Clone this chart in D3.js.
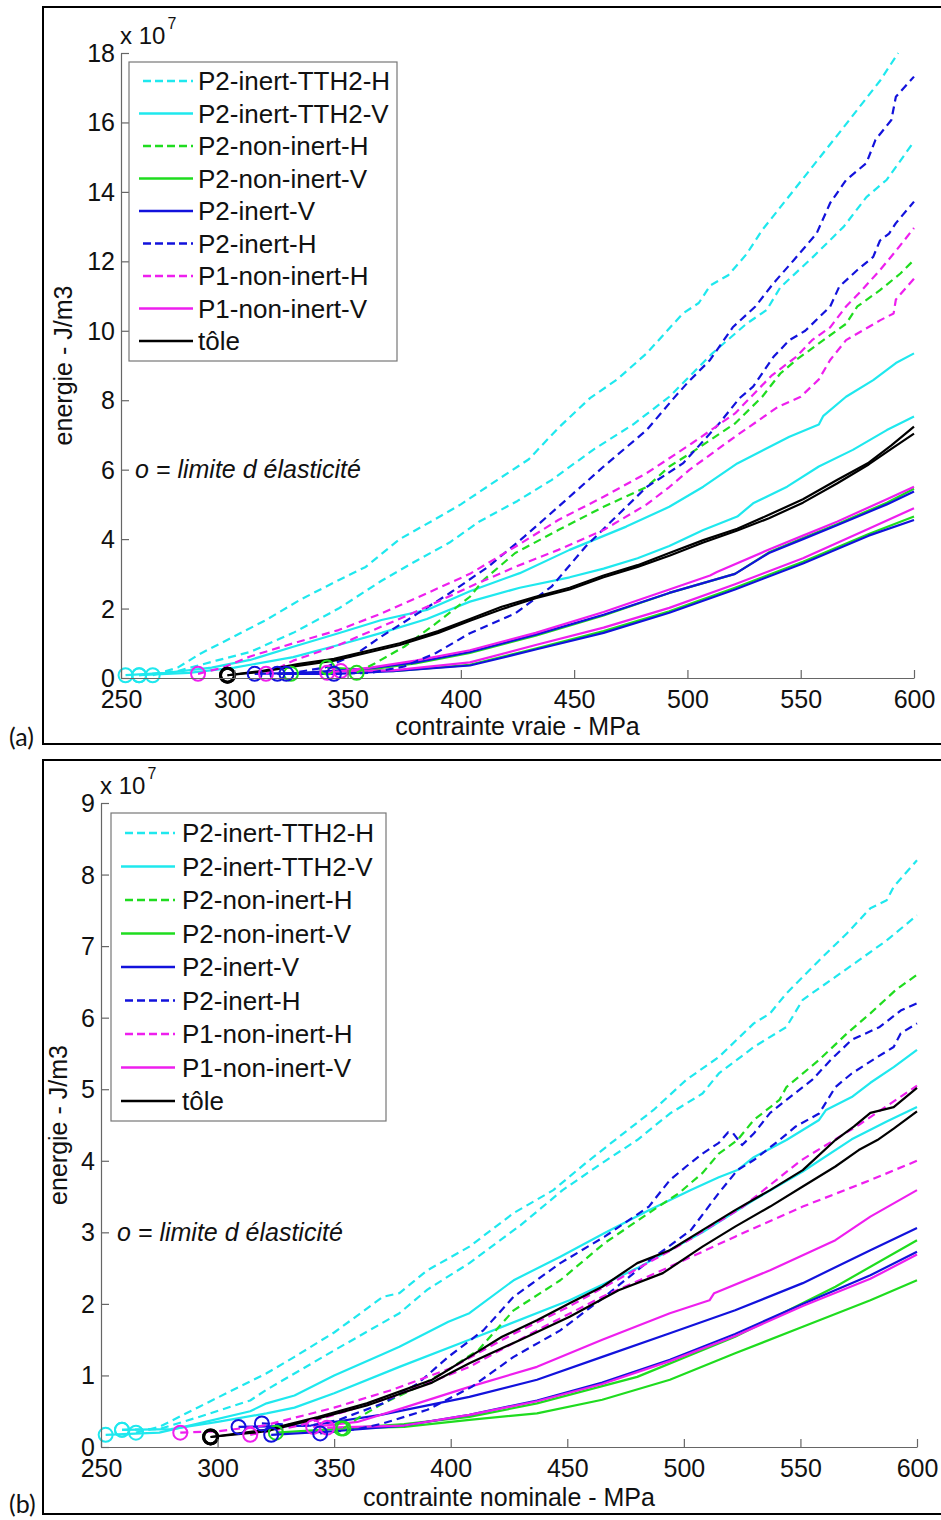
<!DOCTYPE html>
<html><head><meta charset="utf-8">
<script src="https://cdn.jsdelivr.net/npm/d3@7"></script>
<style>
body{margin:0;background:#fff}
svg{display:block}
text{font-family:"Liberation Sans",Arial,Helvetica,sans-serif;fill:#111}
</style>
</head><body>
<svg id="chart" width="941" height="1520"></svg>
<script>
// ---------------- DATA ----------------
const legendLabels = ["P2-inert-TTH2-H","P2-inert-TTH2-V","P2-non-inert-H","P2-non-inert-V","P2-inert-V","P2-inert-H","P1-non-inert-H","P1-non-inert-V","tôle"];
const xTicks = [250,300,350,400,450,500,550,600];
const yTicksA = [0,2,4,6,8,10,12,14,16,18];
const yTicksB = [0,1,2,3,4,5,6,7,8,9];
const xTitleA = "contrainte vraie - MPa";
const xTitleB = "contrainte nominale - MPa";
const yTitle = "energie - J/m3";
const noteText = "o = limite d élasticité";

// Panel (a): [contrainte MPa, energie x1e7 J/m3]; first point = limite d'élasticité
const aCyanDashA = [[264,0.08],[275,0.3],[285,0.7],[300,1.2],[314,1.67],[329,2.25],[344,2.75],[358,3.2],[373,4.0],[388,4.55],[400,5.0],[416,5.7],[430,6.3],[443,7.2],[457,8.06],[469,8.6],[482,9.35],[498,10.5],[505,10.8],[510,11.3],[518,11.6],[526,12.2],[533,12.9],[550,14.3],[567,15.7],[576,16.45],[585,17.2],[593,18.0]];
const aCyanDashB = [[258,0.08],[275,0.2],[292,0.5],[307,0.75],[326,1.3],[346,2.0],[365,2.8],[381,3.4],[395,3.9],[408,4.5],[425,5.1],[440,5.7],[459,6.6],[476,7.3],[492,8.1],[511,9.35],[526,10.2],[535,10.6],[541,11.25],[555,12.1],[569,13.0],[579,13.85],[588,14.35],[600,15.45]];
const aCyanSolA = [[252,0.08],[270,0.15],[290,0.3],[307,0.52],[326,0.9],[346,1.29],[365,1.67],[385,1.96],[404,2.5],[426,3.02],[448,3.69],[473,4.36],[492,4.93],[507,5.51],[522,6.18],[545,6.95],[558,7.3],[560,7.55],[570,8.1],[582,8.58],[592,9.07],[600,9.35]];
const aCyanSolB = [[258,0.08],[280,0.15],[300,0.3],[326,0.6],[346,0.95],[365,1.3],[385,1.7],[404,2.2],[426,2.6],[448,2.9],[463,3.15],[478,3.45],[492,3.8],[507,4.26],[522,4.65],[529,5.03],[544,5.51],[558,6.09],[573,6.57],[588,7.14],[600,7.53]];
const aGreenDash = [[354,0.15],[362,0.42],[375,0.9],[389,1.57],[404,2.34],[410,2.82],[424,3.6],[443,4.26],[463,4.93],[482,5.5],[492,6.09],[502,6.5],[521,7.33],[533,8.1],[541,8.77],[548,9.16],[560,9.73],[570,10.2],[575,10.7],[585,11.17],[594,11.65],[600,12.04]];
const aGreenSolA = [[325,0.12],[360,0.25],[380,0.42],[404,0.72],[433,1.22],[463,1.8],[492,2.45],[521,3.0],[536,3.62],[551,4.03],[566,4.43],[588,5.05],[600,5.45]];
const aGreenSolB = [[341,0.3],[370,0.2],[404,0.38],[433,0.85],[463,1.35],[492,1.92],[521,2.6],[551,3.35],[580,4.15],[600,4.65]];
const aBlueSolA = [[309,0.12],[330,0.15],[360,0.28],[380,0.45],[404,0.75],[433,1.25],[463,1.82],[492,2.45],[521,3.0],[536,3.6],[551,4.0],[566,4.4],[588,5.0],[600,5.37]];
const aBlueSolB = [[319,0.12],[345,0.12],[370,0.2],[404,0.36],[433,0.82],[463,1.3],[492,1.88],[521,2.55],[551,3.3],[580,4.1],[600,4.55]];
const aBlueDashA = [[323,0.12],[340,0.3],[354,0.7],[365,1.2],[381,1.86],[395,2.44],[412,3.2],[428,4.07],[443,4.93],[463,6.09],[482,7.14],[494,8.06],[500,8.5],[510,9.16],[520,10.1],[530,10.7],[538,11.37],[547,12.04],[557,12.8],[563,13.68],[570,14.34],[579,14.83],[583,15.5],[590,16.07],[592,16.74],[600,17.32]];
const aBlueDashB = [[344,0.12],[360,0.15],[375,0.33],[389,0.72],[404,1.29],[424,1.86],[440,2.63],[455,3.78],[467,4.55],[482,5.5],[498,6.18],[514,7.33],[523,8.06],[529,8.39],[538,9.25],[545,9.73],[552,10.0],[563,10.7],[567,11.27],[575,11.75],[582,12.13],[585,12.6],[589,12.8],[592,13.1],[600,13.72]];
const aMagDashA = [[284,0.12],[295,0.3],[307,0.62],[326,1.0],[346,1.38],[365,1.86],[385,2.44],[404,3.0],[424,3.78],[443,4.55],[463,5.22],[482,5.9],[502,6.76],[521,7.62],[537,8.7],[548,9.25],[555,9.73],[563,10.1],[570,10.7],[577,11.17],[585,11.75],[592,12.3],[600,12.96]];
const aMagDashB = [[314,0.12],[326,0.5],[346,0.95],[365,1.48],[385,2.05],[404,2.63],[424,3.2],[443,3.69],[463,4.26],[482,5.0],[492,5.5],[501,6.0],[521,6.95],[540,7.81],[550,8.1],[558,8.6],[563,9.16],[570,9.73],[585,10.3],[591,10.5],[592,10.9],[600,11.5]];
const aMagSolA = [[341,0.15],[360,0.3],[380,0.5],[404,0.8],[433,1.3],[463,1.9],[492,2.55],[510,2.95],[513,3.05],[536,3.7],[551,4.1],[566,4.5],[588,5.15],[600,5.51]];
const aMagSolB = [[347,0.2],[370,0.22],[404,0.45],[433,0.95],[463,1.45],[492,2.02],[521,2.7],[551,3.45],[580,4.3],[600,4.89]];
const aBlackA = [[297,0.08],[312,0.2],[328,0.4],[344,0.55],[360,0.8],[373,1.0],[390,1.35],[404,1.7],[418,2.05],[433,2.34],[448,2.6],[463,2.95],[478,3.25],[492,3.6],[507,3.97],[522,4.3],[536,4.7],[551,5.15],[566,5.7],[580,6.2],[590,6.7],[600,7.24]];
const aBlackB = [[297,0.08],[312,0.18],[328,0.35],[344,0.5],[360,0.75],[373,0.95],[390,1.3],[404,1.65],[418,1.98],[433,2.3],[448,2.55],[463,2.9],[478,3.2],[492,3.52],[507,3.9],[522,4.25],[536,4.6],[551,5.05],[566,5.6],[580,6.15],[590,6.6],[600,7.04]];

// Panel (b)
const bCyanDashA = [[265,0.2],[275,0.28],[292,0.56],[321,1.03],[333,1.26],[350,1.6],[371,2.1],[378,2.15],[390,2.47],[408,2.8],[427,3.27],[444,3.59],[458,3.97],[472,4.33],[487,4.71],[501,5.13],[515,5.45],[530,5.92],[537,6.06],[544,6.34],[558,6.8],[570,7.18],[580,7.53],[587,7.64],[590,7.83],[600,8.2]];
const bCyanDashB = [[259,0.24],[275,0.25],[292,0.42],[314,0.65],[321,0.8],[350,1.35],[378,1.87],[390,2.2],[408,2.57],[430,3.1],[448,3.59],[465,3.97],[480,4.29],[494,4.66],[508,4.94],[515,5.22],[530,5.59],[544,5.87],[551,6.25],[565,6.57],[575,6.8],[587,7.08],[600,7.43]];
const bCyanSolA = [[252,0.17],[275,0.2],[292,0.33],[314,0.5],[321,0.61],[333,0.72],[350,1.0],[371,1.3],[378,1.4],[399,1.75],[408,1.87],[427,2.33],[447,2.66],[466,2.99],[485,3.31],[503,3.59],[515,3.77],[523,3.87],[530,4.05],[544,4.29],[558,4.57],[561,4.71],[572,4.89],[580,5.09],[590,5.31],[600,5.55]];
const bCyanSolB = [[259,0.24],[280,0.25],[300,0.35],[321,0.47],[333,0.55],[350,0.75],[378,1.12],[408,1.5],[451,2.05],[480,2.5],[508,3.0],[530,3.45],[551,3.85],[572,4.3],[587,4.55],[600,4.75]];
const bGreenDash = [[354,0.26],[361,0.42],[371,0.61],[386,0.84],[399,1.08],[412,1.36],[427,1.91],[447,2.33],[466,2.85],[485,3.27],[498,3.55],[508,3.83],[515,4.1],[523,4.29],[530,4.57],[541,4.85],[544,5.03],[558,5.41],[570,5.78],[580,6.06],[591,6.39],[600,6.6]];
const bGreenSolA = [[325,0.2],[350,0.25],[380,0.32],[408,0.42],[437,0.61],[465,0.85],[480,0.98],[522,1.54],[565,2.24],[600,2.89]];
const bGreenSolB = [[353,0.26],[380,0.28],[408,0.38],[437,0.47],[465,0.66],[494,0.94],[522,1.31],[551,1.68],[580,2.05],[600,2.33]];
const bBlueSolA = [[309,0.28],[340,0.3],[370,0.45],[408,0.7],[437,0.94],[465,1.26],[494,1.59],[522,1.91],[551,2.29],[580,2.75],[600,3.06]];
const bBlueSolB = [[323,0.17],[350,0.22],[380,0.3],[408,0.45],[437,0.65],[465,0.9],[494,1.22],[522,1.58],[551,2.0],[580,2.4],[600,2.73]];
const bBlueDashA = [[319,0.33],[340,0.3],[352,0.38],[371,0.61],[386,0.89],[399,1.26],[414,1.63],[427,2.1],[447,2.57],[466,2.94],[485,3.36],[494,3.73],[501,3.92],[508,4.1],[515,4.25],[519,4.4],[521,4.39],[525,4.22],[530,4.38],[537,4.67],[544,4.85],[555,5.13],[563,5.41],[572,5.69],[584,5.87],[593,6.1],[600,6.2]];
const bBlueDashB = [[344,0.19],[360,0.25],[371,0.33],[390,0.52],[409,0.84],[427,1.26],[447,1.63],[466,2.1],[485,2.6],[503,3.03],[515,3.55],[523,3.87],[530,4.01],[541,4.29],[548,4.48],[558,4.66],[565,5.03],[572,5.22],[583,5.45],[590,5.59],[593,5.78],[600,5.92]];
const bMagDashA = [[284,0.2],[300,0.22],[320,0.3],[350,0.55],[375,0.8],[400,1.1],[425,1.55],[450,1.95],[475,2.4],[500,2.85],[525,3.35],[550,4.0],[575,4.5],[600,5.05]];
const bMagDashB = [[314,0.17],[335,0.3],[350,0.45],[375,0.7],[408,1.12],[437,1.63],[465,2.1],[494,2.52],[522,2.94],[551,3.36],[580,3.73],[600,4.0]];
const bMagSolA = [[341,0.28],[360,0.35],[380,0.55],[408,0.84],[437,1.12],[465,1.5],[494,1.87],[511,2.05],[513,2.15],[537,2.47],[565,2.89],[580,3.22],[600,3.59]];
const bMagSolB = [[347,0.27],[380,0.3],[408,0.45],[437,0.64],[465,0.88],[494,1.2],[522,1.55],[551,1.97],[580,2.35],[600,2.69]];
const bBlackA = [[297,0.14],[321,0.24],[343,0.42],[364,0.61],[392,0.94],[408,1.26],[422,1.54],[437,1.77],[451,2.01],[465,2.24],[480,2.57],[494,2.75],[508,3.03],[522,3.31],[537,3.59],[551,3.87],[565,4.29],[573,4.48],[580,4.67],[590,4.75],[600,5.02]];
const bBlackB = [[297,0.14],[321,0.22],[343,0.4],[364,0.58],[392,0.9],[408,1.17],[430,1.5],[451,1.82],[472,2.19],[491,2.43],[508,2.8],[522,3.08],[537,3.36],[551,3.64],[565,3.92],[575,4.15],[583,4.29],[590,4.45],[600,4.69]];

// ---------------- STYLE ----------------
const COL = {c:"#1fe8ee", g:"#1fdc1f", b:"#1212dc", m:"#ee1fee", k:"#000000"};
const legendStyle = [["c",true],["c",false],["g",true],["g",false],["b",false],["b",true],["m",true],["m",false],["k",false]];
const seriesA = [
  [aCyanDashA,"c",true],[aCyanDashB,"c",true],[aCyanSolA,"c",false],[aCyanSolB,"c",false],
  [aGreenSolA,"g",false],[aGreenSolB,"g",false],[aBlueSolA,"b",false],[aBlueSolB,"b",false],
  [aMagSolA,"m",false],[aMagSolB,"m",false],
  [aGreenDash,"g",true],[aBlueDashA,"b",true],[aBlueDashB,"b",true],[aMagDashA,"m",true],[aMagDashB,"m",true],
  [aBlackA,"k",false],[aBlackB,"k",false]
];
const seriesB = [
  [bCyanDashA,"c",true],[bCyanDashB,"c",true],[bCyanSolA,"c",false],[bCyanSolB,"c",false],
  [bGreenSolA,"g",false],[bGreenSolB,"g",false],[bBlueSolA,"b",false],[bBlueSolB,"b",false],
  [bMagSolA,"m",false],[bMagSolB,"m",false],
  [bGreenDash,"g",true],[bBlueDashA,"b",true],[bBlueDashB,"b",true],[bMagDashA,"m",true],[bMagDashB,"m",true],
  [bBlackA,"k",false],[bBlackB,"k",false]
];

const svg = d3.select("#chart");
svg.append("rect").attr("width",941).attr("height",1520).attr("fill","#fff");

// outer frames
svg.append("rect").attr("x",43).attr("y",7).attr("width",930).attr("height",737)
  .attr("fill","none").attr("stroke","#000").attr("stroke-width",2);
svg.append("rect").attr("x",43).attr("y",760).attr("width",930).attr("height",754)
  .attr("fill","none").attr("stroke","#000").attr("stroke-width",2);

function panel(cfg){
  const g = svg.append("g");
  const x = d3.scaleLinear().domain([250,600]).range([cfg.x0,cfg.x1]);
  const y = d3.scaleLinear().domain([0,cfg.yMax]).range([cfg.yb,cfg.yt]);

  // curves
  const line = d3.line().x(d=>x(d[0])).y(d=>y(d[1]));
  const curves = g.append("g");
  cfg.series.forEach(([data,c,dash])=>{
    curves.append("path").attr("d",line(data)).attr("fill","none")
      .attr("stroke",COL[c]).attr("stroke-width",2.2)
      .attr("stroke-linejoin","round")
      .attr("stroke-dasharray",dash?"8,5":null);
  });
  // elastic-limit circles
  cfg.series.forEach(([data,c])=>{
    curves.append("circle").attr("cx",x(data[0][0])).attr("cy",y(data[0][1])).attr("r",7)
      .attr("fill","none").attr("stroke",COL[c]).attr("stroke-width",c==="k"?3:2);
  });

  // axes
  const ax = g.append("g").attr("transform",`translate(0,${cfg.yb})`)
    .call(d3.axisBottom(x).tickValues(xTicks).tickSizeInner(-8).tickSizeOuter(0).tickFormat(d3.format("d")));
  const ay = g.append("g").attr("transform",`translate(${cfg.x0},0)`)
    .call(d3.axisLeft(y).tickValues(cfg.yTicks).tickSizeInner(-8).tickSizeOuter(0).tickPadding(6).tickFormat(d3.format("d")));
  [ax,ay].forEach(a=>{
    a.select(".domain").attr("stroke","#666").attr("stroke-width",1.2);
    a.selectAll(".tick line").attr("stroke","#666").attr("stroke-width",1.2);
    a.selectAll(".tick text").attr("font-size",25).attr("fill","#111")
      .style("font-family","'Liberation Sans',Arial,sans-serif");
  });
  ax.selectAll(".tick text").attr("dy","0.71em").attr("y",12);
  ay.selectAll(".tick text").attr("dy","0.34em");

  // x 10^7
  const mult = g.append("text").attr("x",cfg.x0-1).attr("y",cfg.yt-9).attr("font-size",24);
  mult.append("tspan").text("x 10");
  mult.append("tspan").attr("dy",-15).attr("dx",2).attr("font-size",16).text("7");

  // axis titles
  g.append("text").attr("x",(cfg.x0+cfg.x1)/2).attr("y",cfg.xTitleY).attr("text-anchor","middle")
    .attr("font-size",25).text(cfg.xTitle);
  g.append("text").attr("transform",`translate(${cfg.yTitleX},${(cfg.yt+cfg.yb)/2}) rotate(-90)`)
    .attr("text-anchor","middle").attr("font-size",25).text(yTitle);

  // note
  g.append("text").attr("x",cfg.noteX).attr("y",cfg.noteY).attr("font-size",25)
    .attr("font-style","italic").text(noteText);

  // legend
  const L = cfg.leg;
  g.append("rect").attr("x",L.x).attr("y",L.y).attr("width",L.w).attr("height",L.h)
    .attr("fill","#fff").attr("stroke","#777").attr("stroke-width",1.2);
  legendLabels.forEach((lab,i)=>{
    const yy = L.y0 + i*L.dy;
    const [c,dash] = legendStyle[i];
    g.append("line").attr("x1",dash?L.lx0+4:L.lx0).attr("x2",L.lx1).attr("y1",yy).attr("y2",yy)
      .attr("stroke",COL[c]).attr("stroke-width",2.4).attr("stroke-dasharray",dash?"8,4":null);
    g.append("text").attr("x",L.tx).attr("y",yy).attr("dy","0.36em").attr("font-size",26).text(lab);
  });

  // panel label
  svg.append("text").attr("x",9).attr("y",cfg.labY).attr("font-size",25)
    .style("font-family","Lato,'Open Sans',sans-serif").text(cfg.lab);
}

panel({x0:121,x1:914,yb:678,yt:53,yMax:18,yTicks:yTicksA,series:seriesA,
  xTitle:xTitleA,xTitleY:735,yTitleX:72,noteX:135,noteY:478,
  leg:{x:129,y:62,w:268,h:299,y0:81,dy:32.5,lx0:139,lx1:193,tx:198},
  lab:"(a)",labY:746});
panel({x0:101,x1:917,yb:1447,yt:803,yMax:9,yTicks:yTicksB,series:seriesB,
  xTitle:xTitleB,xTitleY:1506,yTitleX:67,noteX:117,noteY:1241,
  leg:{x:111,y:813,w:275,h:308,y0:833,dy:33.5,lx0:121,lx1:175,tx:182},
  lab:"(b)",labY:1513});
</script>
</body></html>
